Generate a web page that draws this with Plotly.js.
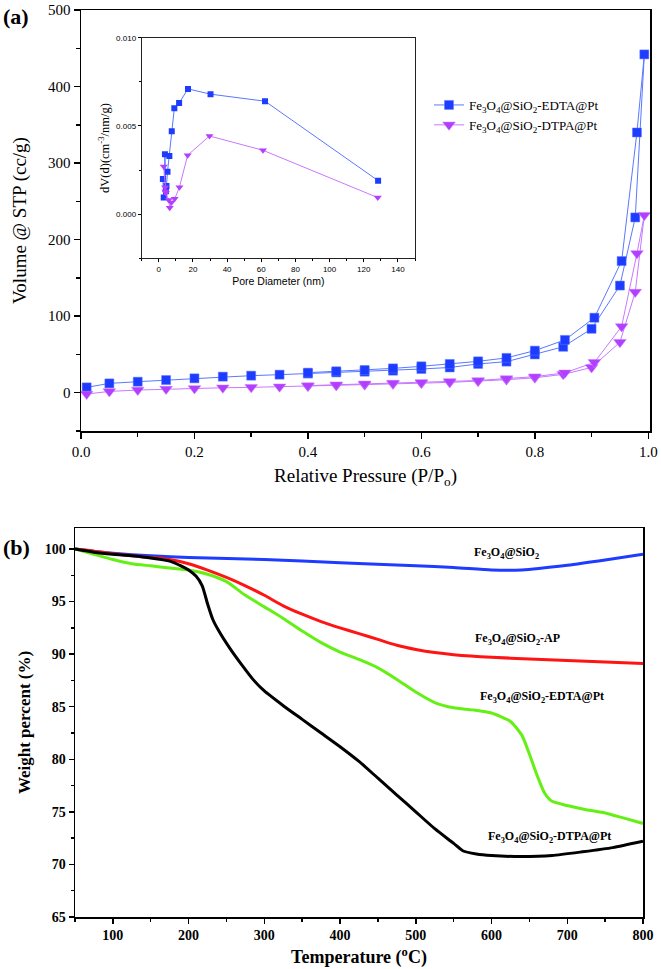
<!DOCTYPE html>
<html>
<head>
<meta charset="utf-8">
<script src="https://cdn.plot.ly/plotly-3.0.1.min.js"></script>
<style>html,body{margin:0;padding:0;background:#fff;}#chart{width:661px;height:969px;}</style>
</head>
<body>
<div id="chart"></div>
<script>
// ---------- Panel (a): N2 isotherms ----------
const P_ads = [0.01,0.05,0.10,0.15,0.20,0.25,0.30,0.35,0.40,0.45,0.50,0.55,0.60,0.65,0.70,0.75,0.80,0.85,0.90,0.95,0.977,0.993];
const P_des = [0.98,0.953,0.905,0.853,0.80,0.75,0.70,0.65,0.60,0.55,0.50,0.45,0.40];
const edta_ads = [7,12.2,14.4,16.6,18.8,21,22.3,23.6,25,26.5,27.5,28.8,31,33,37.6,40.6,50,60,83.5,140,229,442];
const edta_des = [340,172,98,69,55,45.5,41,37.6,34.5,31.8,29.7,28,26.2];
const dtpa_ads = [-1.7,1.7,3.5,4.8,5.6,6.5,7,7.8,8.5,9.5,10.5,11.5,12.5,13.5,15,17,19.5,24,33,66,131.5,232];
const dtpa_des = [182,86.5,39.7,26,21,18.5,16,14.8,13.5,12.7,11.6,10.5,9.3];

// ---------- Inset: pore size distribution ----------
const d_edta  = [2.4,2.9,3.6,4.2,4.5,5.1,6.2,7.6,9.1,11.9,17.1,30.3,62.2,128.4];
const dv_edta = [0.0020,0.00095,0.0034,0.0013,0.0016,0.0024,0.0033,0.0047,0.0060,0.0063,0.0071,0.0068,0.0064,0.0019];
const d_dtpa  = [2.9,3.7,3.9,4.2,5.8,6.4,7.4,9.3,12.1,16.9,29.7,61.0,128.2];
const dv_dtpa = [0.0027,0.00153,0.00128,0.0012,0.00081,0.00037,0.00066,0.00087,0.00153,0.00334,0.00443,0.00362,0.00094];

// ---------- Panel (b): TGA ----------
const T_sio2 = [50,80,100,150,200,300,400,500,550,600,640,700,750,800];
const w_sio2 = [100,99.75,99.6,99.35,99.2,99.0,98.7,98.4,98.25,98.0,98.0,98.45,98.95,99.5];
const T_ap = [50,75,100,150,175,200,225,250,275,300,325,350,375,400,425,450,475,500,525,550,600,650,700,750,800];
const w_ap = [100,99.8,99.55,99.2,99.0,98.6,98.0,97.3,96.5,95.6,94.6,93.8,93.1,92.5,91.95,91.4,90.85,90.45,90.15,89.95,89.7,89.55,89.4,89.25,89.1];
const T_edta = [50,75,100,125,150,175,200,225,250,275,300,325,350,375,400,425,450,475,500,525,550,575,600,625,640,650,660,670,680,700,725,750,775,800];
const w_edta = [100,99.5,99.0,98.6,98.4,98.2,98.0,97.6,96.9,95.6,94.5,93.4,92.2,91.1,90.2,89.5,88.7,87.6,86.4,85.4,84.9,84.7,84.4,83.6,82.3,80.5,78.5,76.8,76.0,75.6,75.2,74.9,74.4,73.9];
const T_dtpa = [50,75,100,125,150,175,190,200,210,218,225,232,240,255,270,285,300,325,350,375,400,425,450,475,500,525,550,562,580,600,640,680,720,760,800];
const w_dtpa = [100,99.7,99.5,99.35,99.15,98.85,98.4,98.0,97.4,96.5,94.8,93.3,92.2,90.5,89.0,87.6,86.5,85.1,83.8,82.5,81.2,79.8,78.2,76.6,75.0,73.4,72.0,71.3,71.0,70.85,70.75,70.85,71.2,71.6,72.2];

const names = ['Fe<sub>3</sub>O<sub>4</sub>@SiO<sub>2</sub>-EDTA@Pt','Fe<sub>3</sub>O<sub>4</sub>@SiO<sub>2</sub>-DTPA@Pt'];
const tgaLabels = ['Fe<sub>3</sub>O<sub>4</sub>@SiO<sub>2</sub>','Fe<sub>3</sub>O<sub>4</sub>@SiO<sub>2</sub>-AP','Fe<sub>3</sub>O<sub>4</sub>@SiO<sub>2</sub>-EDTA@Pt','Fe<sub>3</sub>O<sub>4</sub>@SiO<sub>2</sub>-DTPA@Pt'];

const BLUE='rgb(30,60,255)', BLUEL='rgb(90,120,255)', PUR='rgb(178,62,255)', PURL='rgb(200,120,255)';
const SERIF='"Liberation Serif","Times New Roman",serif';
const SANS='"Liberation Sans",Arial,sans-serif';

const traces = [
  {x:P_ads.concat(P_des), y:edta_ads.concat(edta_des), xaxis:'x', yaxis:'y', mode:'lines+markers', name:names[0],
   line:{color:BLUEL,width:1}, marker:{symbol:'square',size:9,color:BLUE,line:{color:BLUEL,width:0.5}}},
  {x:P_ads.concat(P_des), y:dtpa_ads.concat(dtpa_des), xaxis:'x', yaxis:'y', mode:'lines+markers', name:names[1],
   line:{color:PURL,width:1}, marker:{symbol:'triangle-down',size:11,color:PUR,line:{color:PURL,width:0.5}}},
  {x:d_edta, y:dv_edta, xaxis:'x3', yaxis:'y3', mode:'lines+markers', showlegend:false,
   line:{color:BLUEL,width:1}, marker:{symbol:'square',size:6,color:BLUE}},
  {x:d_dtpa, y:dv_dtpa, xaxis:'x3', yaxis:'y3', mode:'lines+markers', showlegend:false,
   line:{color:PURL,width:1}, marker:{symbol:'triangle-down',size:7,color:PUR}},
  {x:T_sio2, y:w_sio2, xaxis:'x2', yaxis:'y2', mode:'lines', showlegend:false, line:{color:'rgb(30,60,255)',width:3,shape:'spline',smoothing:0.6}},
  {x:T_ap, y:w_ap, xaxis:'x2', yaxis:'y2', mode:'lines', showlegend:false, line:{color:'rgb(255,20,20)',width:3,shape:'spline',smoothing:0.6}},
  {x:T_edta, y:w_edta, xaxis:'x2', yaxis:'y2', mode:'lines', showlegend:false, line:{color:'rgb(100,240,20)',width:3,shape:'spline',smoothing:0.6}},
  {x:T_dtpa, y:w_dtpa, xaxis:'x2', yaxis:'y2', mode:'lines', showlegend:false, line:{color:'rgb(0,0,0)',width:3,shape:'spline',smoothing:0.6}}
];

const W=661,H=969;
const px=v=>v/W, py=v=>1-v/H;

const axA = {showline:true,linecolor:'#000',linewidth:1.5,mirror:true,ticks:'outside',ticklen:6,tickwidth:1.5,tickcolor:'#000',
  showgrid:false,zeroline:false,tickfont:{family:SERIF,size:15,color:'#000'},automargin:false};
const axB = {showline:true,linecolor:'#000',linewidth:1.5,mirror:true,ticks:'outside',ticklen:5,tickwidth:1.5,tickcolor:'#000',
  showgrid:false,zeroline:false,tickfont:{family:SERIF,size:14,color:'#000',weight:'bold'},automargin:false};
const axI = {showline:true,linecolor:'#222',linewidth:1,mirror:true,ticks:'outside',ticklen:3,tickwidth:1,tickcolor:'#000',
  showgrid:false,zeroline:false,tickfont:{family:SANS,size:8,color:'#000'},automargin:false};

const layout = {
  width:W, height:H, margin:{l:0,r:0,t:0,b:0}, paper_bgcolor:'#fff', plot_bgcolor:'rgba(0,0,0,0)',
  showlegend:true,
  legend:{x:px(429), y:py(90), xanchor:'left', yanchor:'top', bgcolor:'rgba(0,0,0,0)', borderwidth:0,
    font:{family:SERIF,size:13,color:'#000'}, tracegroupgap:0, itemwidth:30},
  xaxis:Object.assign({}, axA, {domain:[px(81),px(650)], range:[0,1.003], anchor:'y', tickvals:[0,0.2,0.4,0.6,0.8,1.0], ticktext:['0.0','0.2','0.4','0.6','0.8','1.0'],
    minor:{ticks:'outside',dtick:0.1,ticklen:4,tickwidth:1.5,tickcolor:'#000'},
    title:{text:'Relative Pressure (P/P<sub>o</sub>)', font:{family:SERIF,size:19,color:'#000'}, standoff:10}}),
  yaxis:Object.assign({}, axA, {domain:[py(431),py(10)], range:[-50,500], anchor:'x', dtick:100,
    minor:{ticks:'outside',dtick:50,ticklen:4,tickwidth:1.5,tickcolor:'#000'},
    title:{text:'Volume @ STP (cc/g)', font:{family:SERIF,size:19,color:'#000'}, standoff:16}}),
  xaxis3:Object.assign({}, axI, {domain:[px(141.7),px(415)], range:[-10,150], anchor:'y3', dtick:20,
    minor:{ticks:'outside',dtick:10,ticklen:2,tickwidth:1,tickcolor:'#000'},
    title:{text:'Pore Diameter (nm)', font:{family:SANS,size:10.5,color:'#000'}, standoff:4}}),
  yaxis3:Object.assign({}, axI, {domain:[py(258.3),py(37.7)], range:[-0.0025,0.010], anchor:'x3', tickvals:[0,0.005,0.010], tickformat:'.3f',
    minor:{ticks:'outside',dtick:0.0025,ticklen:2,tickwidth:1,tickcolor:'#000'},
    title:{text:'dV(d)(cm<sup>-3</sup>/nm/g)', font:{family:SERIF,size:12.5,color:'#000'}, standoff:3}}),
  xaxis2:Object.assign({}, axB, {domain:[px(75),px(643)], range:[50,800], anchor:'y2', tickvals:[100,200,300,400,500,600,700,800],
    minor:{ticks:'outside',dtick:50,ticklen:3,tickwidth:1.5,tickcolor:'#000'},
    title:{text:'Temperature (<sup>o</sup>C)', font:{family:SERIF,size:18,color:'#000',weight:'bold'}, standoff:8}}),
  yaxis2:Object.assign({}, axB, {domain:[py(917),py(528)], range:[65,102], anchor:'x2', tickvals:[65,70,75,80,85,90,95,100],
    minor:{ticks:'outside',dtick:2.5,ticklen:3,tickwidth:1.5,tickcolor:'#000'},
    title:{text:'Weight percent (%)', font:{family:SERIF,size:17,color:'#000',weight:'bold'}, standoff:10}}),
  annotations:[
    {xref:'paper',yref:'paper',x:px(1),y:py(16),xanchor:'left',yanchor:'middle',text:'<b>(a)</b>',showarrow:false,font:{family:SERIF,size:22,color:'#000'}},
    {xref:'paper',yref:'paper',x:px(1),y:py(547),xanchor:'left',yanchor:'middle',text:'<b>(b)</b>',showarrow:false,font:{family:SERIF,size:22,color:'#000'}},
    {xref:'x2',yref:'y2',x:620,y:99.6,text:'<b>'+tgaLabels[0]+'</b>',showarrow:false,font:{family:SERIF,size:12,color:'#000'}},
    {xref:'x2',yref:'y2',x:634,y:91.45,text:'<b>'+tgaLabels[1]+'</b>',showarrow:false,font:{family:SERIF,size:12,color:'#000'}},
    {xref:'x2',yref:'y2',x:667,y:85.9,text:'<b>'+tgaLabels[2]+'</b>',showarrow:false,font:{family:SERIF,size:12,color:'#000'}},
    {xref:'x2',yref:'y2',x:677,y:72.6,text:'<b>'+tgaLabels[3]+'</b>',showarrow:false,font:{family:SERIF,size:12,color:'#000'}}
  ]
};

Plotly.newPlot('chart', traces, layout, {staticPlot:true, displayModeBar:false});
</script>
</body>
</html>
